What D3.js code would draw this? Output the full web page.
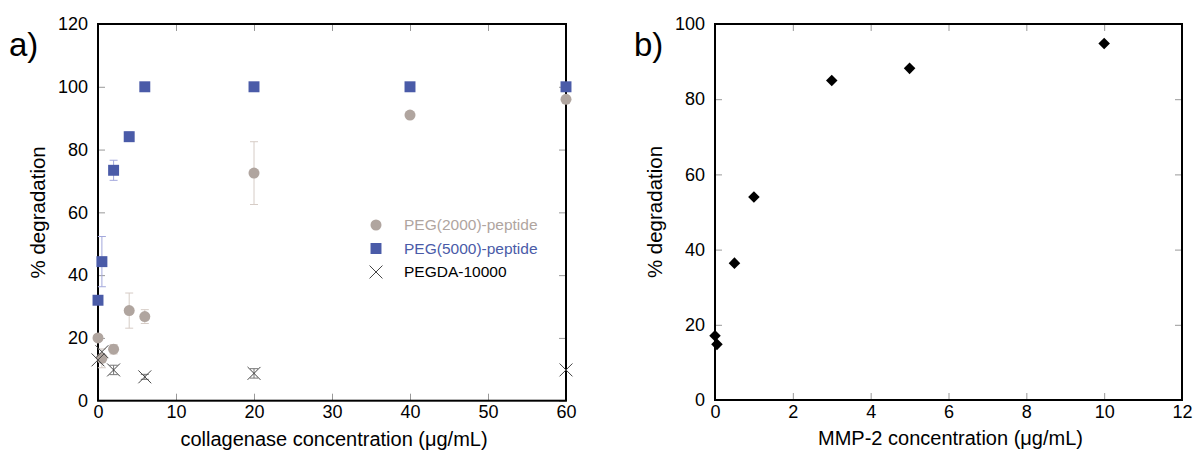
<!DOCTYPE html>
<html>
<head>
<meta charset="utf-8">
<script src="https://cdn.jsdelivr.net/npm/d3@7"></script>
<style>
  body { margin: 0; background: #fff; }
  svg { font-family: "Liberation Sans", Arial, sans-serif; }
</style>
</head>
<body>
<svg id="chart"></svg>
<script>
// panel a) collagenase
const xA = [0, 0.5, 2, 4, 6, 20, 40, 60];
const peg2000 = [20, 13.5, 16.4, 28.7, 26.8, 72.5, 91, 96];
const peg2000Err = [0, 3, 1.5, 5.6, 2.2, 10, 0, 0];
const peg5000 = [32, 44.3, 73.4, 84.1, 100, 100, 100, 100];
const peg5000Err = [0, 8, 3.2, 1.5, 0, 0, 0, 0];
const xPegda = [0, 0.5, 2, 6, 20, 60];
const pegda = [13, 15.6, 9.8, 7.6, 8.7, 9.8];
const pegdaErr = [0, 0, 1.5, 0.8, 1.5, 0];
const legendLabels = ["PEG(2000)-peptide", "PEG(5000)-peptide", "PEGDA-10000"];

// panel b) MMP-2
const xB = [0, 0.05, 0.5, 1, 3, 5, 10];
const mmp = [17.1, 14.8, 36.4, 54, 85, 88.2, 94.8];

const xTicksA = [0, 10, 20, 30, 40, 50, 60];
const yTicksA = [0, 20, 40, 60, 80, 100, 120];
const xTicksB = [0, 2, 4, 6, 8, 10, 12];
const yTicksB = [0, 20, 40, 60, 80, 100];

const W = 1193, H = 455;
const svg = d3.select("#chart").attr("width", W).attr("height", H);

const gray = "#b0a59f", blue = "#4a5ba8", grayErr = "#d6ccc6", blueErr = "#a3a8dc";

function frame(x, y, xTicks, yTicks, xTitle) {
  const g = svg.append("g");
  const [x0, x1] = x.range(), [y0, y1] = y.range();
  const tk = 7;
  const style = a => {
    a.select(".domain").remove();
    a.selectAll(".tick line").attr("stroke", "#999");
    a.selectAll(".tick text").attr("fill", "#000").style("font-size", "18px");
  };
  g.append("g").attr("transform", `translate(0,${y0})`)
    .call(d3.axisBottom(x).tickValues(xTicks).tickSize(-tk).tickPadding(5)).call(style);
  g.append("g").attr("transform", `translate(0,${y1})`)
    .call(d3.axisTop(x).tickValues(xTicks).tickSize(-tk).tickFormat("")).call(style);
  g.append("g").attr("transform", `translate(${x0},0)`)
    .call(d3.axisLeft(y).tickValues(yTicks).tickSize(-tk).tickPadding(10)).call(style);
  g.append("g").attr("transform", `translate(${x1},0)`)
    .call(d3.axisRight(y).tickValues(yTicks).tickSize(-tk).tickFormat("")).call(style);
  g.selectAll("text").attr("font-family", "Liberation Sans, Arial, sans-serif");
  g.append("rect").attr("x", x0).attr("y", y1).attr("width", x1 - x0).attr("height", y0 - y1)
    .attr("fill", "none").attr("stroke", "#000").attr("stroke-width", 2);
  g.append("text").attr("x", (x0 + x1) / 2 + 2).attr("y", y0 + 45).attr("text-anchor", "middle")
    .style("font-size", "20px").text(xTitle);
  g.append("text").attr("transform", `translate(${x0 - 53},${(y0 + y1) / 2}) rotate(-90)`)
    .attr("text-anchor", "middle").style("font-size", "20.5px").text("% degradation");
  return g;
}

function errorBars(g, xs, ys, errs, x, y, color) {
  const d = xs.map((v, i) => ({ x: v, y: ys[i], e: errs[i] })).filter(d => d.e > 0);
  const cap = 4;
  d.forEach(p => {
    const px = x(p.x);
    g.append("line").attr("x1", px).attr("x2", px).attr("y1", y(p.y - p.e)).attr("y2", y(p.y + p.e))
      .attr("stroke", color).attr("stroke-width", 1);
    [p.y - p.e, p.y + p.e].forEach(v => {
      g.append("line").attr("x1", px - cap).attr("x2", px + cap).attr("y1", y(v)).attr("y2", y(v))
        .attr("stroke", color).attr("stroke-width", 1);
    });
  });
}

// ---- panel a
const xa = d3.scaleLinear().domain([0, 60]).range([98, 566]);
const ya = d3.scaleLinear().domain([0, 120]).range([400.7, 24]);
const ga = frame(xa, ya, xTicksA, yTicksA, "collagenase concentration (\u03bcg/mL)");

errorBars(ga, xA, peg2000, peg2000Err, xa, ya, grayErr);
errorBars(ga, xA, peg5000, peg5000Err, xa, ya, blueErr);
errorBars(ga, xPegda, pegda, pegdaErr, xa, ya, "#777");

const circle = d3.symbol().type(d3.symbolCircle).size(95);
const square = d3.symbol().type(d3.symbolSquare).size(120);
const cross = d3.symbol().type(d3.symbolX).size(110);

ga.selectAll(".p2").data(xA).join("path")
  .attr("d", circle).attr("transform", (d, i) => `translate(${xa(d)},${ya(peg2000[i])})`)
  .attr("fill", gray);
ga.selectAll(".p5").data(xA).join("path")
  .attr("d", square).attr("transform", (d, i) => `translate(${xa(d)},${ya(peg5000[i])})`)
  .attr("fill", blue);
ga.selectAll(".pd").data(xPegda).join("path")
  .attr("d", cross).attr("transform", (d, i) => `translate(${xa(d)},${ya(pegda[i])})`)
  .attr("fill", "none").attr("stroke", "#444").attr("stroke-width", 1);

// legend
const legColors = [gray, blue, "#000"];
const legSyms = [circle, square, cross];
legendLabels.forEach((t, i) => {
  const yy = 225 + i * 23.5;
  const p = ga.append("path").attr("d", legSyms[i]).attr("transform", `translate(376,${yy})`);
  if (i < 2) p.attr("fill", legColors[i]);
  else p.attr("fill", "none").attr("stroke", "#444").attr("stroke-width", 1);
  ga.append("text").attr("x", 404).attr("y", yy).attr("dy", "0.35em")
    .style("font-size", "15.5px").attr("fill", legColors[i]).text(t);
});

svg.append("text").attr("x", 9).attr("y", 56).style("font-size", "33px").text("a)");

// ---- panel b
const xb = d3.scaleLinear().domain([0, 12]).range([715, 1182]);
const yb = d3.scaleLinear().domain([0, 100]).range([400, 24]);
const gb = frame(xb, yb, xTicksB, yTicksB, "MMP-2 concentration (\u03bcg/mL)");

const diamond = d3.symbol().type(d3.symbolDiamond2).size(85);
gb.selectAll(".mm").data(xB).join("path")
  .attr("d", diamond).attr("transform", (d, i) => `translate(${xb(d)},${yb(mmp[i])})`)
  .attr("fill", "#000");

svg.append("text").attr("x", 634).attr("y", 56).style("font-size", "33px").text("b)");
</script>
</body>
</html>
